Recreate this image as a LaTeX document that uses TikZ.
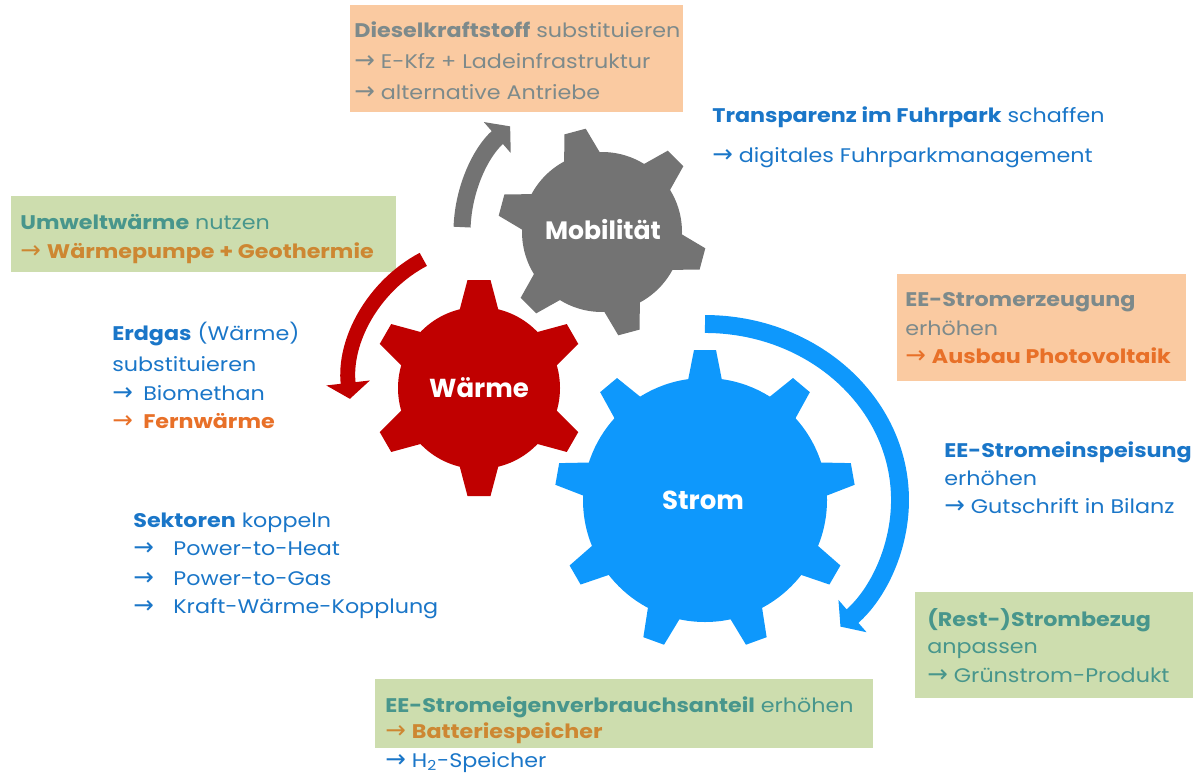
\documentclass[tikz,border=0pt]{standalone}
\usepackage{fontspec}
\setmainfont{Poppins}[FakeStretch=1.13]
\newfontfamily\lblfont{Poppins}
\newfontfamily\arrfont{DejaVu Sans}
\usetikzlibrary{arrows.meta,calc}
\definecolor{gearblue}{RGB}{14,152,252}
\definecolor{gearred}{RGB}{192,0,0}
\definecolor{geargrey}{RGB}{115,115,115}
\definecolor{boxorange}{RGB}{250,202,161}
\definecolor{boxgreen}{RGB}{205,221,174}
\definecolor{tgrey}{RGB}{125,138,139}
\definecolor{tblue}{RGB}{26,118,200}
\definecolor{tteal}{RGB}{72,150,140}
\definecolor{tbrown}{RGB}{205,135,50}
\definecolor{torange}{RGB}{232,112,40}
\newcommand{\rarr}{{\arrfont\fontsize{14}{12}\selectfont →}}
\newcommand{\tabarr}[1]{\makebox[#1][l]{\rarr}}
\begin{document}
\begin{tikzpicture}[x=0.02cm,y=0.02cm,
  txt/.style={inner sep=0pt, anchor=base west, font=\fontsize{11.2}{12}\selectfont},
  glabel/.style={text=white, font=\lblfont\bfseries\fontsize{14.8}{18}\selectfont, inner sep=0pt}
]
\useasboundingbox (0,0) rectangle (1193,-774);

% ---------- boxes ----------
\fill[boxorange] (350,-5) rectangle (683,-112);
\fill[boxgreen] (11,-196) rectangle (396,-272);
\fill[boxorange] (897,-274) rectangle (1186,-381);
\fill[boxgreen] (915,-592) rectangle (1193,-698);
\fill[boxgreen] (375,-679) rectangle (873,-748);

% ---------- gears ----------
% Mobilitaet (grey)
\fill[geargrey] (602,-232) circle (80);
\foreach \k in {0,...,5}
  \fill[geargrey, shift={(602,-232)}, rotate=105+60*\k]
    (72,-20) -- (104,-11) -- (104,11) -- (72,20) -- cycle;
% Waerme (red)
\fill[gearred] (479,-388) circle (81);
\foreach \k in {0,...,5}
  \fill[gearred, shift={(479,-388)}, rotate=90+60*\k]
    (72,-21) -- (108,-11.5) -- (108,11.5) -- (72,21) -- cycle;
% Strom (blue)
\fill[gearblue] (705,-500) circle (122);
\foreach \k in {0,...,8}
  \fill[gearblue, shift={(705,-500)}, rotate=90+40*\k]
    (112,-18.5) -- (150,-11) -- (150,11) -- (112,18.5) -- cycle;

\node[glabel, font=\lblfont\bfseries\fontsize{14.3}{16}\selectfont] (lmob) at (603,-230) {Mobilität};
\node[glabel] (lwae) at (479,-388) {Wärme};
\node[glabel] (lstr) at (703,-500) {Strom};

% ---------- circular arrows ----------
\draw[geargrey, line width=9.7pt, -{Triangle[width=22.8pt,length=9.7pt]}]
  ($(602,-232)+(178:140)$) arc[start angle=178, end angle=131, radius=140];
\draw[gearred, line width=8.5pt, -{Triangle[width=24.5pt,length=9.1pt]}]
  ($(489,-383)+(118:140)$) arc[start angle=118, end angle=186.5, radius=140];
\draw[gearblue, line width=10.2pt, -{Triangle[width=23.9pt,length=9.1pt]}]
  (705,-324) arc[start angle=90, end angle=-46, x radius=195, y radius=176];

% ---------- texts ----------
\node[txt, text=tgrey] (d1) at (354,-37) {\textbf{Dieselkraftstoff} substituieren};
\node[txt, text=tgrey] (d2) at (354,-68) {\rarr{} E-Kfz + Ladeinfrastruktur};
\node[txt, text=tgrey] (d3) at (354,-99) {\rarr{} alternative Antriebe};

\node[txt, text=tblue] (t1) at (712,-122) {\textbf{Transparenz im Fuhrpark} schaffen};
\node[txt, text=tblue] (t2) at (712,-162) {\rarr{} digitales Fuhrparkmanagement};

\node[txt, text=tteal] (u1) at (20,-229) {\textbf{Umweltwärme} nutzen};
\node[txt, text=tbrown] (u2) at (20,-258) {\rarr{} \textbf{Wärmepumpe + Geothermie}};

\node[txt, text=tblue] (e1) at (112,-340) {\textbf{Erdgas} (Wärme)};
\node[txt, text=tblue] (e2) at (112,-371) {substituieren};
\node[txt, text=tblue] (e3) at (112,-400) {\tabarr{17.6pt}Biomethan};
\node[txt, text=torange] (e4) at (112,-428) {\tabarr{17.6pt}\textbf{Fernwärme}};

\node[txt, text=tblue] (s1) at (133,-527) {\textbf{Sektoren} koppeln};
\node[txt, text=tblue] (s2) at (133,-555) {\tabarr{22.8pt}Power-to-Heat};
\node[txt, text=tblue] (s3) at (133,-585) {\tabarr{22.8pt}Power-to-Gas};
\node[txt, text=tblue] (s4) at (133,-613) {\tabarr{22.8pt}Kraft-Wärme-Kopplung};

\node[txt, text=tgrey] (r1) at (905,-306) {\textbf{EE-Stromerzeugung}};
\node[txt, text=tgrey] (r2) at (905,-335) {erhöhen};
\node[txt, text=torange] (r3) at (905,-363) {\rarr{} \textbf{Ausbau Photovoltaik}};

\node[txt, text=tblue] (i1) at (944,-457) {\textbf{EE-Stromeinspeisung}};
\node[txt, text=tblue] (i2) at (944,-485) {erhöhen};
\node[txt, text=tblue] (i3) at (944,-513) {\rarr{} Gutschrift in Bilanz};

\node[txt, text=tteal] (b1) at (927,-626) {\textbf{(Rest-)Strombezug}};
\node[txt, text=tteal] (b2) at (927,-653) {anpassen};
\node[txt, text=tteal] (b3) at (927,-682) {\rarr{} Grünstrom-Produkt};

\node[txt, text=tteal] (v1) at (385,-712) {\textbf{EE-Stromeigenverbrauchsanteil} erhöhen};
\node[txt, text=tbrown] (v2) at (385,-738) {\rarr{} \textbf{Batteriespeicher}};
\node[txt, text=tblue] (v3) at (385,-767) {\rarr{} H\textsubscript{2}-Speicher};
\end{tikzpicture}
\end{document}
